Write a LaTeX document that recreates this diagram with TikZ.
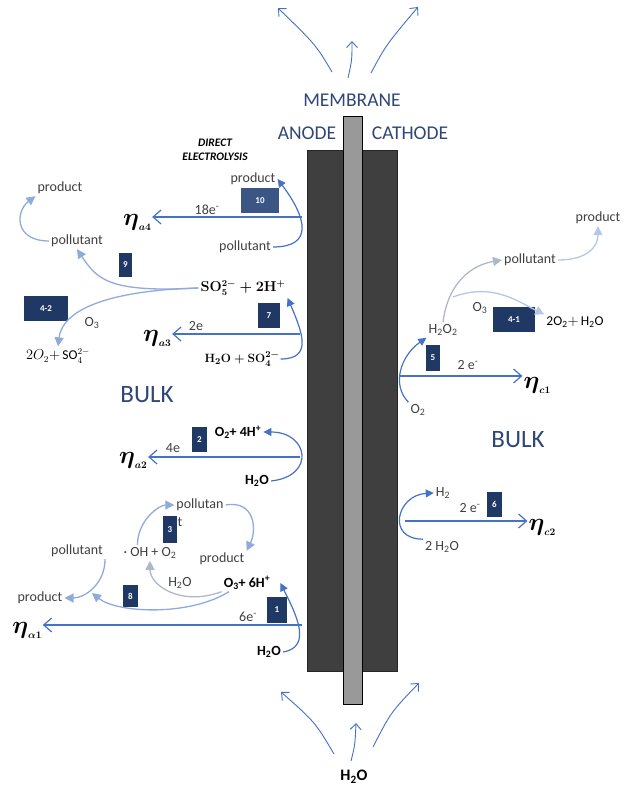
\documentclass[tikz,border=0pt]{standalone}
\usepackage{fontspec}
\setmainfont{Carlito}
\usepackage{amsmath}
\usepackage{tikz}
\usetikzlibrary{calc,arrows.meta}

\definecolor{mainblue}{HTML}{4472C4}
\definecolor{lightblue}{HTML}{8FAADC}
\definecolor{paleblue}{HTML}{B4C7E7}
\definecolor{grayblue}{HTML}{ADB9CA}
\definecolor{navy}{HTML}{203864}
\definecolor{midnavy}{HTML}{3B5584}
\definecolor{titleblue}{HTML}{2F4677}
\definecolor{txtgray}{HTML}{404040}
\definecolor{electrode}{HTML}{3F3F3F}
\definecolor{membgray}{HTML}{999999}

\newcommand{\etalbl}[1]{$\eta$\raisebox{-5pt}{\fontsize{10}{10}\selectfont$#1$}}

\tikzset{
  lbl/.style={font=\fontsize{14}{15}\selectfont, text=txtgray, inner sep=2pt},
  chem/.style={font=\bfseries\fontsize{14}{15}\selectfont, inner sep=2pt},
  rxn/.style={font=\fontsize{13.5}{15}\selectfont, inner sep=2pt},
  headtxt/.style={font=\fontsize{19.5}{20}\selectfont, text=titleblue},
  bulk/.style={font=\fontsize{25}{26}\selectfont, text=titleblue},
  eta/.style={font=\fontsize{26}{28}\selectfont\boldmath, inner sep=1pt},
  numbox/.style={fill=navy, text=white, font=\bfseries\fontsize{9}{10}\selectfont, inner sep=0pt, minimum height=25pt},
  elec/.style={draw=mainblue, line width=1.2pt, -{Straight Barb[length=8pt,width=14pt]}},
  redox/.style={draw=mainblue, line width=1.2pt, -{Triangle[length=8pt,width=8pt]}},
  sidearc/.style={draw=lightblue, line width=1.3pt, -{Triangle[length=9pt,width=9pt]}},
  vent/.style={draw=mainblue, line width=0.9pt, -{Straight Barb[length=6pt,width=11pt]}},
}

\begin{document}
\begin{tikzpicture}[x=1pt,y=-1pt]
\useasboundingbox (0,0) rectangle (623,794);

% cell
\filldraw[fill=electrode, draw=black!85] (307,150) rectangle (344,671);
\filldraw[fill=electrode, draw=black!85] (362,150) rectangle (397,671);
\filldraw[fill=membgray, draw=black, line width=1pt] (343,117) rectangle (362,704);

\node[headtxt] (membr) at (352,100) {MEMBRANE};
\node[headtxt] (anodelbl) at (307,133) {ANODE};
\node[headtxt] (cathodelbl) at (410,133) {CATHODE};
\node[bulk] (bulkl) at (147,395) {BULK};
\node[bulk] (bulkr) at (518,440) {BULK};
\node[font=\bfseries\itshape\fontsize{11.5}{14}\selectfont, align=center] (direct) at (215,150) {DIRECT\\ELECTROLYSIS};

% gas out of the cell
\coordinate (up1) at (332,72);
\coordinate (up2) at (348,78);
\coordinate (up3) at (371,73);
\coordinate (tip1) at (278,8);
\coordinate (tip2) at (352,41);
\coordinate (tip3) at (418,7);
\draw[vent] (up1) .. controls (316,45) .. (tip1);
\draw[vent] (up2) .. controls (352,60) .. (tip2);
\draw[vent] (up3) .. controls (386,45) .. (tip3);

\node[chem, font=\bfseries\fontsize{16}{18}\selectfont] (h2obot) at (354,777) {H\textsubscript{2}O};
\coordinate (dn1) at (281,692);
\coordinate (dn2) at (356,723);
\coordinate (dn3) at (419,683);
\draw[vent] (334,754) .. controls (315,722) .. (dn1);
\draw[vent] (351,761) .. controls (355,745) .. (dn2);
\draw[vent] (373,747) .. controls (391,712) .. (dn3);

% anode, step 10 and 9
\node[lbl] (prod4) at (253,179) {product};
\node[numbox, minimum width=38pt, fill=midnavy] (n10) at (260,200.5) {10};
\node[lbl] (e18) at (207,210) {18e\textsuperscript{-}};
\node[eta] (eta4) at (137,222) {\etalbl{a4}};
\node[lbl] (pol4) at (245,247) {pollutant};
\node[lbl] (prod9) at (60,188) {product};
\node[lbl] (pol9) at (77,241) {pollutant};
\node[numbox, minimum width=13pt, minimum height=24pt] (n9) at (125.5,265) {9};
\node[font=\fontsize{13.5}{15}\selectfont\boldmath, inner sep=2pt] (so5) at (243,288) {$\mathbf{SO_5^{2-}+2H^+}$};
\coordinate (ea4) at (302,217);
\draw[elec] (ea4) -- (ea4 -| eta4.east);
\draw[redox] (pol4.east) .. controls +(40,0) and +(30,40) .. (prod4.east);
\draw[sidearc] (pol9.west) .. controls +(-35,0) and +(-20,15) .. (prod9.south west);
\draw[sidearc] (so5.west) .. controls +(-90,5) and +(20,30) .. (pol9.south);

% step 4-2 and 7
\node[numbox, minimum width=44pt] (n42) at (46,308.5) {4-2};
\node[lbl] (o3l) at (92,323) {O\textsubscript{3}};
\node[numbox, minimum width=22pt] (n7) at (269,315.5) {7};
\node[lbl] (e2) at (196,326) {2e};
\node[eta] (eta3) at (157,338) {\etalbl{a3}};
\node[rxn] (so4l) at (58,356) {$2O_2{+}\,\mathrm{SO}_4^{2-}$};
\node[font=\fontsize{12.5}{14}\selectfont\boldmath, inner sep=1pt] (h2oso4) at (242,359) {$\mathbf{H_2O+SO_4^{2-}}$};
\coordinate (ea3) at (300,334);
\draw[elec] (ea3) -- (ea3 -| eta3.east);
\draw[redox] (h2oso4.east) .. controls +(32,0) and +(15,35) .. (so5.south east);
\draw[sidearc] (so5.west) .. controls +(-80,2) and +(5,-40) .. (so4l.north);

% step 2
\node[numbox, minimum width=15pt] (n2) at (199.5,439.5) {2};
\node[chem] (o2h) at (238,432) {O\textsubscript{2}+ 4H\textsuperscript{+}};
\node[lbl] (e4) at (173,448) {4e};
\node[eta] (eta2) at (133,460) {\etalbl{a2}};
\node[chem] (h2o2l) at (257,481) {H\textsubscript{2}O};
\coordinate (ea2) at (300,457);
\draw[elec] (ea2) -- (ea2 -| eta2.east);
\draw[redox] (h2o2l.east) .. controls +(45,-5) and +(45,0) .. (o2h.east);

% step 3, 8 and 1
\node[lbl] (pol3) at (200,505) {pollutan};
\node[lbl] (pol3t) at (180,522) {t};
\node[numbox, minimum width=14pt, minimum height=27pt] (n3) at (170,529.5) {3};
\node[lbl] (oh) at (150,553) {· OH + O\textsubscript{2}};
\node[lbl] (pol8) at (77,551) {pollutant};
\node[lbl] (prod3) at (222,559) {product};
\node[lbl] (h2o3) at (180,583) {H\textsubscript{2}O};
\node[chem] (o3h) at (247,583) {O\textsubscript{3}+ 6H\textsuperscript{+}};
\node[numbox, minimum width=15pt, minimum height=22pt] (n8) at (130.5,596) {8};
\node[lbl] (prod8) at (40,598) {product};
\node[numbox, minimum width=20pt, minimum height=26pt] (n1) at (277,610) {1};
\node[lbl] (e6) at (248,617) {6e\textsuperscript{-}};
\node[eta] (eta1) at (27,630) {\etalbl{\alpha1}};
\node[chem] (h2o1) at (269,652) {H\textsubscript{2}O};
\coordinate (ea1) at (302,625);
\coordinate (end8) at (92,593);
\draw[elec] (ea1) -- (ea1 -| eta1.east);
\draw[redox] (h2o1.east) .. controls +(30,-5) and +(15,30) .. ([xshift=8pt]o3h.east);
\draw[sidearc] ([xshift=16pt]oh.north west) .. controls +(0,-25) and +(-15,0) .. (pol3.west);
\draw[sidearc] (pol3.east) .. controls +(30,-5) and +(10,-20) .. (prod3.north east);
\draw[sidearc, draw=grayblue] (o3h.south west) .. controls +(-40,15) and +(0,25) .. (oh.south);
\draw[sidearc] ([xshift=-18pt]o3h.south) .. controls +(-40,25) and +(25,20) .. (end8);
\draw[sidearc] (pol8.south east) .. controls +(0,25) and +(20,0) .. (prod8.east);

% cathode
\node[lbl] (prod41) at (598,218) {product};
\node[lbl] (pol41) at (530,260) {pollutant};
\node[lbl] (o3r) at (480,308) {O\textsubscript{3}};
\node[numbox, minimum width=42pt] (n41) at (514,319.5) {4-1};
\node[rxn] (o2h2o) at (575,322) {$\mathrm{2O_2{+}\,H_2O}$};
\node[lbl] (h2o2) at (443,330) {H\textsubscript{2}O\textsubscript{2}};
\node[numbox, minimum width=14pt, minimum height=26pt] (n5) at (433,358) {5};
\node[lbl] (e2c) at (468,365) {2 e\textsuperscript{-}};
\node[eta] (etac1) at (537,385) {\etalbl{c1}};
\node[lbl] (o2) at (418,410) {O\textsubscript{2}};
\node[lbl] (h2) at (443,493) {H\textsubscript{2}};
\node[lbl] (e2c2) at (470,508) {2 e\textsuperscript{-}};
\node[numbox, minimum width=15pt] (n6) at (494.5,504.5) {6};
\node[eta] (etac2) at (542,527) {\etalbl{c2}};
\node[lbl] (h2o2c) at (442,547) {2 H\textsubscript{2}O};
\coordinate (ec1) at (400,376);
\coordinate (ec2) at (405,521);
\coordinate (r41) at (453,297);
\draw[elec] (ec1) -- (ec1 -| etac1.west);
\draw[elec] (ec2) -- (ec2 -| etac2.west);
\draw[redox] (o2.north west) .. controls +(-17,-17) and +(-26,18) .. (h2o2.south west);
\draw[redox] (h2o2c.north west) .. controls +(-37,0) and +(-37,2) .. (h2.west);
\draw[sidearc, draw=grayblue] (h2o2.north) .. controls +(5,-40) and +(-30,5) .. (pol41.west);
\draw[sidearc, draw=paleblue] (r41) .. controls +(40,-15) and +(-25,-12) .. (o2h2o.north west);
\draw[sidearc, draw=paleblue] (pol41.east) .. controls +(30,0) and +(0,20) .. (prod41.south);
\end{tikzpicture}
\end{document}
